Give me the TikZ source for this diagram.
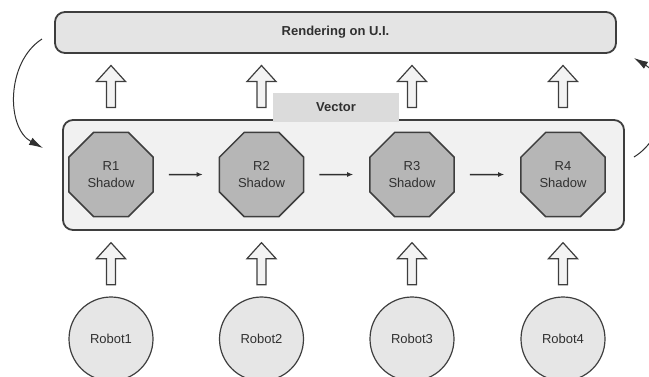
\documentclass[tikz,border=0pt]{standalone}
\usepackage{fontspec}
\setmainfont{Liberation Sans}
\usetikzlibrary{arrows.meta,calc,shapes.geometric}

\definecolor{edge}{RGB}{62,62,62}
\definecolor{ink}{RGB}{48,48,48}
\definecolor{uifill}{RGB}{228,228,228}
\definecolor{boxfill}{RGB}{241,241,241}
\definecolor{octfill}{RGB}{182,182,182}
\definecolor{robfill}{RGB}{230,230,230}
\definecolor{arrfill}{RGB}{243,243,243}
\definecolor{vecfill}{RGB}{219,219,219}

\begin{document}
\fontsize{13}{16.5}\selectfont
\begin{tikzpicture}[x=1pt,y=1pt,yscale=-1,
  panel/.style={draw=edge,line width=1.8pt,rounded corners=10pt,inner sep=0pt,text=ink},
  shadowbox/.style={regular polygon,regular polygon sides=8,minimum size=91pt,inner sep=0pt,
    draw=edge,line width=1.5pt,fill=octfill,text=ink,align=center},
  robot/.style={circle,minimum size=84pt,inner sep=0pt,draw=edge,line width=1.2pt,fill=robfill,text=ink},
  flow/.style={draw=ink,line width=1.5pt,-{Latex[length=6pt,width=5pt]},shorten <=15pt,shorten >=16pt},
  loopback/.style={draw=ink,line width=1pt,-{Latex[length=14pt,width=8pt]}},
  % pics are drawn with y pointing up
  pics/hollowup/.style={code={
    \draw[draw=edge,line width=1.2pt,fill=arrfill] (-4.5,-21) -- (-4.5,5) -- (-14.5,5) -- (0,21)
      -- (14.5,5) -- (4.5,5) -- (4.5,-21) -- cycle;}}]
\useasboundingbox (0,0) rectangle (649,376);

%Shape: Rounded Rectangle
\node[panel,fill=uifill,minimum width=561pt,minimum height=41pt,font=\bfseries] (ui) at (335.5,32.5) {Rendering on U.I.};
%Shape: Rounded Rectangle
\node[panel,fill=boxfill,minimum width=561pt,minimum height=110pt] (shadows) at (343.5,175) {};
% Text Node
\node[fill=vecfill,minimum width=126pt,minimum height=29pt,inner sep=0pt,text=ink,font=\bfseries] (vec) at (336,107.5) {Vector};

%Shape: Octagon
\node[shadowbox] (s1) at (111,174.5) {R1\\Shadow};
\node[shadowbox] (s2) at (261.5,174.5) {R2\\Shadow};
\node[shadowbox] (s3) at (412,174.5) {R3\\Shadow};
\node[shadowbox] (s4) at (563,174.5) {R4\\Shadow};

%Shape: Circle
\node[robot] (rb1) at (111,339) {Robot1};
\node[robot] (rb2) at (261.5,339) {Robot2};
\node[robot] (rb3) at (412,339) {Robot3};
\node[robot] (rb4) at (563,339) {Robot4};

%Straight Lines
\draw[flow] (s1) -- (s2);
\draw[flow] (s2) -- (s3);
\draw[flow] (s3) -- (s4);

%Block Arrows: shadows up to the U.I.
\pic at ($(s1 |- shadows.north)!0.5!(s1 |- ui.south)$) {hollowup};
\pic at ($(s2 |- shadows.north)!0.5!(s2 |- ui.south)$) {hollowup};
\pic at ($(s3 |- shadows.north)!0.5!(s3 |- ui.south)$) {hollowup};
\pic at ($(s4 |- shadows.north)!0.5!(s4 |- ui.south)$) {hollowup};
%Block Arrows: robots up to their shadows
\pic at ($(rb1.north)!0.5!(rb1 |- shadows.south)$) {hollowup};
\pic at ($(rb2.north)!0.5!(rb2 |- shadows.south)$) {hollowup};
\pic at ($(rb3.north)!0.5!(rb3 |- shadows.south)$) {hollowup};
\pic at ($(rb4.north)!0.5!(rb4 |- shadows.south)$) {hollowup};

%Curve Lines
\coordinate (backL0) at (42,39);
\coordinate (backL1) at (43,148);
\draw[loopback] (backL0) .. controls (6,62) and (6,128) .. (backL1);
\coordinate (backR0) at (634,157);
\coordinate (backR1) at (634,58);
\draw[loopback] (backR0) .. controls (670,135) and (670,80) .. (backR1);

\end{tikzpicture}
\end{document}
